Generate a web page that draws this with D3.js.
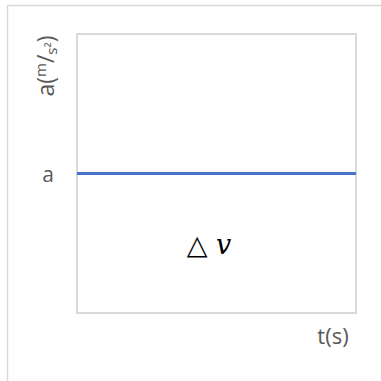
<!DOCTYPE html>
<html>
<head>
<meta charset="utf-8">
<script src="https://cdn.jsdelivr.net/npm/d3@7"></script>
<style>
  body { margin: 0; background: #fff; }
  #chart { width: 381px; height: 381px; }
</style>
</head>
<body>
<div id="chart"></div>
<script>
// data: constant acceleration over time
const times = [0, 1];
const accel = [1, 1];
const yLabels = ["a"];

const width = 381;
const height = 381;
const margin = { top: 34, left: 77, right: 25, bottom: 68 };

const svg = d3.select("#chart")
    .append("svg")
    .attr("width", width)
    .attr("height", height);

// outer chart frame (runs off right/bottom)
svg.append("rect")
    .attr("x", 7.5)
    .attr("y", 5.5)
    .attr("width", 400)
    .attr("height", 400)
    .attr("fill", "none")
    .attr("stroke", "#d9d9d9")
    .attr("stroke-width", 1.5);

const xScale = d3.scaleLinear()
    .domain([0, 1])
    .range([margin.left, width - margin.right]);

const yScale = d3.scaleLinear()
    .domain([0, 2])
    .range([height - margin.bottom, margin.top]);

// plot area frame
svg.append("rect")
    .attr("x", xScale(0))
    .attr("y", yScale(2))
    .attr("width", xScale(1) - xScale(0))
    .attr("height", yScale(0) - yScale(2))
    .attr("fill", "none")
    .attr("stroke", "#d9d9d9")
    .attr("stroke-width", 2);

const pts = times.map((t, i) => [t, accel[i]]);
const line = d3.line()
    .x(d => xScale(d[0]))
    .y(d => yScale(d[1]));

svg.append("path")
    .datum(pts)
    .attr("d", line)
    .attr("fill", "none")
    .attr("stroke", "#4472c4")
    .attr("stroke-width", 3);

// "a" tick label
svg.append("text")
    .attr("x", 48)
    .attr("y", yScale(accel[0]) + 8)
    .attr("text-anchor", "middle")
    .attr("font-family", "Open Sans, sans-serif")
    .attr("font-size", 21)
    .attr("fill", "#595959")
    .text(yLabels[0]);

// y axis title a(m/s²)
const yt = svg.append("text")
    .attr("transform", "translate(54,66) rotate(-90)")
    .attr("text-anchor", "middle")
    .attr("font-family", "Open Sans, sans-serif")
    .attr("font-size", 23)
    .attr("fill", "#595959");
yt.append("tspan").text("a(");
yt.append("tspan").attr("font-size", 15).attr("dy", -8).text("m");
yt.append("tspan").attr("dy", 8).text("/");
yt.append("tspan").attr("font-size", 15).attr("dy", 3).text("s²");
yt.append("tspan").attr("dy", -3).text(")");

// x axis title
svg.append("text")
    .attr("x", 333)
    .attr("y", 344)
    .attr("text-anchor", "middle")
    .attr("font-family", "Open Sans, sans-serif")
    .attr("font-size", 22)
    .attr("fill", "#595959")
    .text("t(s)");

// area label
const dv = svg.append("text")
    .attr("x", 209)
    .attr("y", 254)
    .attr("text-anchor", "middle")
    .attr("font-family", "DejaVu Serif, serif")
    .attr("font-size", 27)
    .attr("fill", "#000");
dv.append("tspan").text("△ ");
dv.append("tspan").attr("font-style", "italic").text("v");
</script>
</body>
</html>
